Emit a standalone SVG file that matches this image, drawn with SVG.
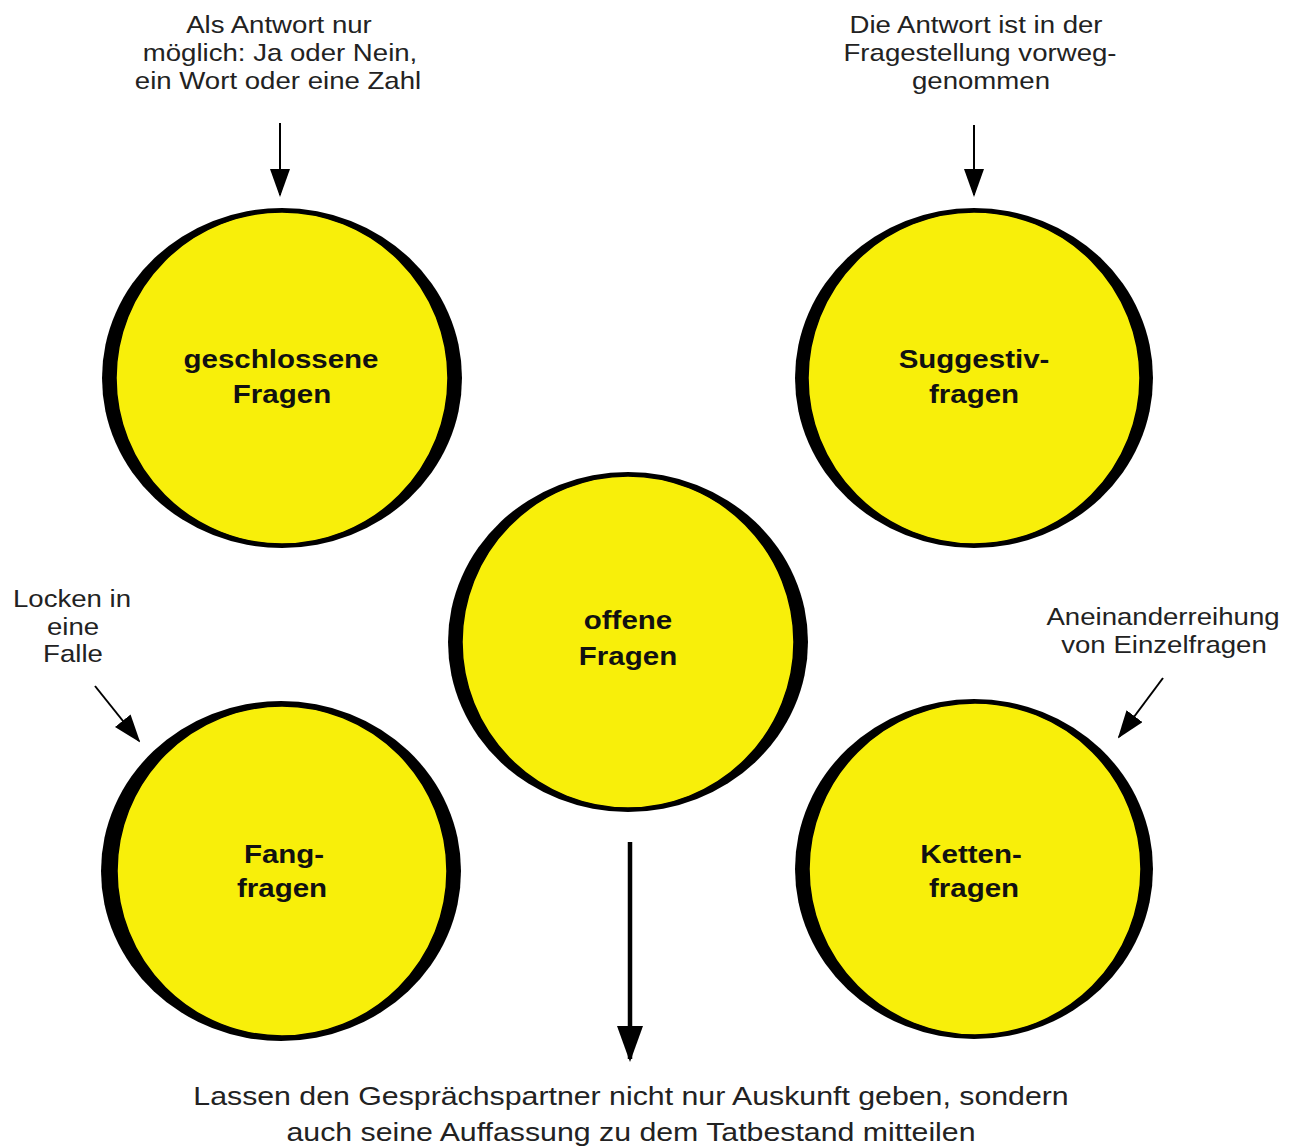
<svg xmlns="http://www.w3.org/2000/svg" width="1299" height="1147" viewBox="0 0 1299 1147">
<style>
.shadow{fill:#000}
.disc{fill:#f8ef0a;stroke:#000;stroke-width:1.5}
.title{font-family:"Liberation Sans",Arial,sans-serif;font-weight:bold;font-size:25px;fill:#111;text-anchor:middle}
.note{font-family:"Liberation Sans",Arial,sans-serif;font-size:24px;fill:#222;text-anchor:middle}
.big{font-family:"Liberation Sans",Arial,sans-serif;font-size:26px;fill:#222;text-anchor:middle}
.conn{stroke:#000;stroke-width:2;fill:none}
.connBig{stroke:#000;stroke-width:4.5;fill:none}
</style>
<defs>
<marker id="arr" markerUnits="userSpaceOnUse" markerWidth="28" markerHeight="20" refX="26" refY="10" orient="auto">
<path d="M0,0 L28,10 L0,20 z" fill="#000"/>
</marker>
<marker id="arrBig" markerUnits="userSpaceOnUse" markerWidth="36" markerHeight="26" refX="33" refY="13" orient="auto">
<path d="M0,0 L36,13 L0,26 z" fill="#000"/>
</marker>
</defs>
<rect width="1299" height="1147" fill="#fff"/>
<g id="geschlossene">
<ellipse class="shadow" cx="282" cy="378" rx="180" ry="170"/>
<circle class="disc" cx="282" cy="378" r="166"/>
<text class="title" transform="translate(281,368) scale(1.18,1)">geschlossene</text>
<text class="title" transform="translate(282,403) scale(1.18,1)">Fragen</text>
</g>
<g id="suggestiv">
<ellipse class="shadow" cx="974" cy="378" rx="179" ry="170"/>
<circle class="disc" cx="974" cy="378" r="166"/>
<text class="title" transform="translate(974,368) scale(1.18,1)">Suggestiv-</text>
<text class="title" transform="translate(974,403) scale(1.18,1)">fragen</text>
</g>
<g id="offene">
<ellipse class="shadow" cx="628" cy="642" rx="180" ry="170"/>
<circle class="disc" cx="628" cy="642" r="166"/>
<text class="title" transform="translate(628,629) scale(1.18,1)">offene</text>
<text class="title" transform="translate(628,665) scale(1.18,1)">Fragen</text>
</g>
<g id="fang">
<ellipse class="shadow" cx="281" cy="871" rx="180" ry="170"/>
<circle class="disc" cx="282" cy="871" r="165"/>
<text class="title" transform="translate(284,863) scale(1.18,1)">Fang-</text>
<text class="title" transform="translate(282,897) scale(1.18,1)">fragen</text>
</g>
<g id="ketten">
<ellipse class="shadow" cx="974" cy="869" rx="179" ry="170"/>
<circle class="disc" cx="975" cy="869" r="166"/>
<text class="title" transform="translate(971,863) scale(1.18,1)">Ketten-</text>
<text class="title" transform="translate(974,897) scale(1.18,1)">fragen</text>
</g>
<g id="note-geschlossene">
<text class="note" transform="translate(279,33) scale(1.15,1)">Als Antwort nur</text>
<text class="note" transform="translate(280,61) scale(1.15,1)">möglich: Ja oder Nein,</text>
<text class="note" transform="translate(278,89) scale(1.15,1)">ein Wort oder eine Zahl</text>
</g>
<g id="note-suggestiv">
<text class="note" transform="translate(976,33) scale(1.15,1)">Die Antwort ist in der</text>
<text class="note" transform="translate(980,61) scale(1.15,1)">Fragestellung vorweg-</text>
<text class="note" transform="translate(981,89) scale(1.15,1)">genommen</text>
</g>
<g id="note-fang">
<text class="note" transform="translate(72,607) scale(1.15,1)">Locken in</text>
<text class="note" transform="translate(73,635) scale(1.15,1)">eine</text>
<text class="note" transform="translate(73,662) scale(1.15,1)">Falle</text>
</g>
<g id="note-ketten">
<text class="note" transform="translate(1163,625) scale(1.15,1)">Aneinanderreihung</text>
<text class="note" transform="translate(1164,653) scale(1.15,1)">von Einzelfragen</text>
</g>
<g id="note-offene">
<text class="big" transform="translate(631,1105) scale(1.165,1)">Lassen den Gesprächspartner nicht nur Auskunft geben, sondern</text>
<text class="big" transform="translate(631,1141) scale(1.165,1)">auch seine Auffassung zu dem Tatbestand mitteilen</text>
</g>
<g id="connectors">
<line class="conn" x1="280" y1="123" x2="280" y2="195" marker-end="url(#arr)"/>
<line class="conn" x1="974" y1="125" x2="974" y2="195" marker-end="url(#arr)"/>
<line class="conn" x1="95" y1="686" x2="139" y2="741" marker-end="url(#arr)"/>
<line class="conn" x1="1163" y1="678" x2="1119" y2="737" marker-end="url(#arr)"/>
<line class="connBig" x1="630" y1="842" x2="630" y2="1059" marker-end="url(#arrBig)"/>
</g>
</svg>
